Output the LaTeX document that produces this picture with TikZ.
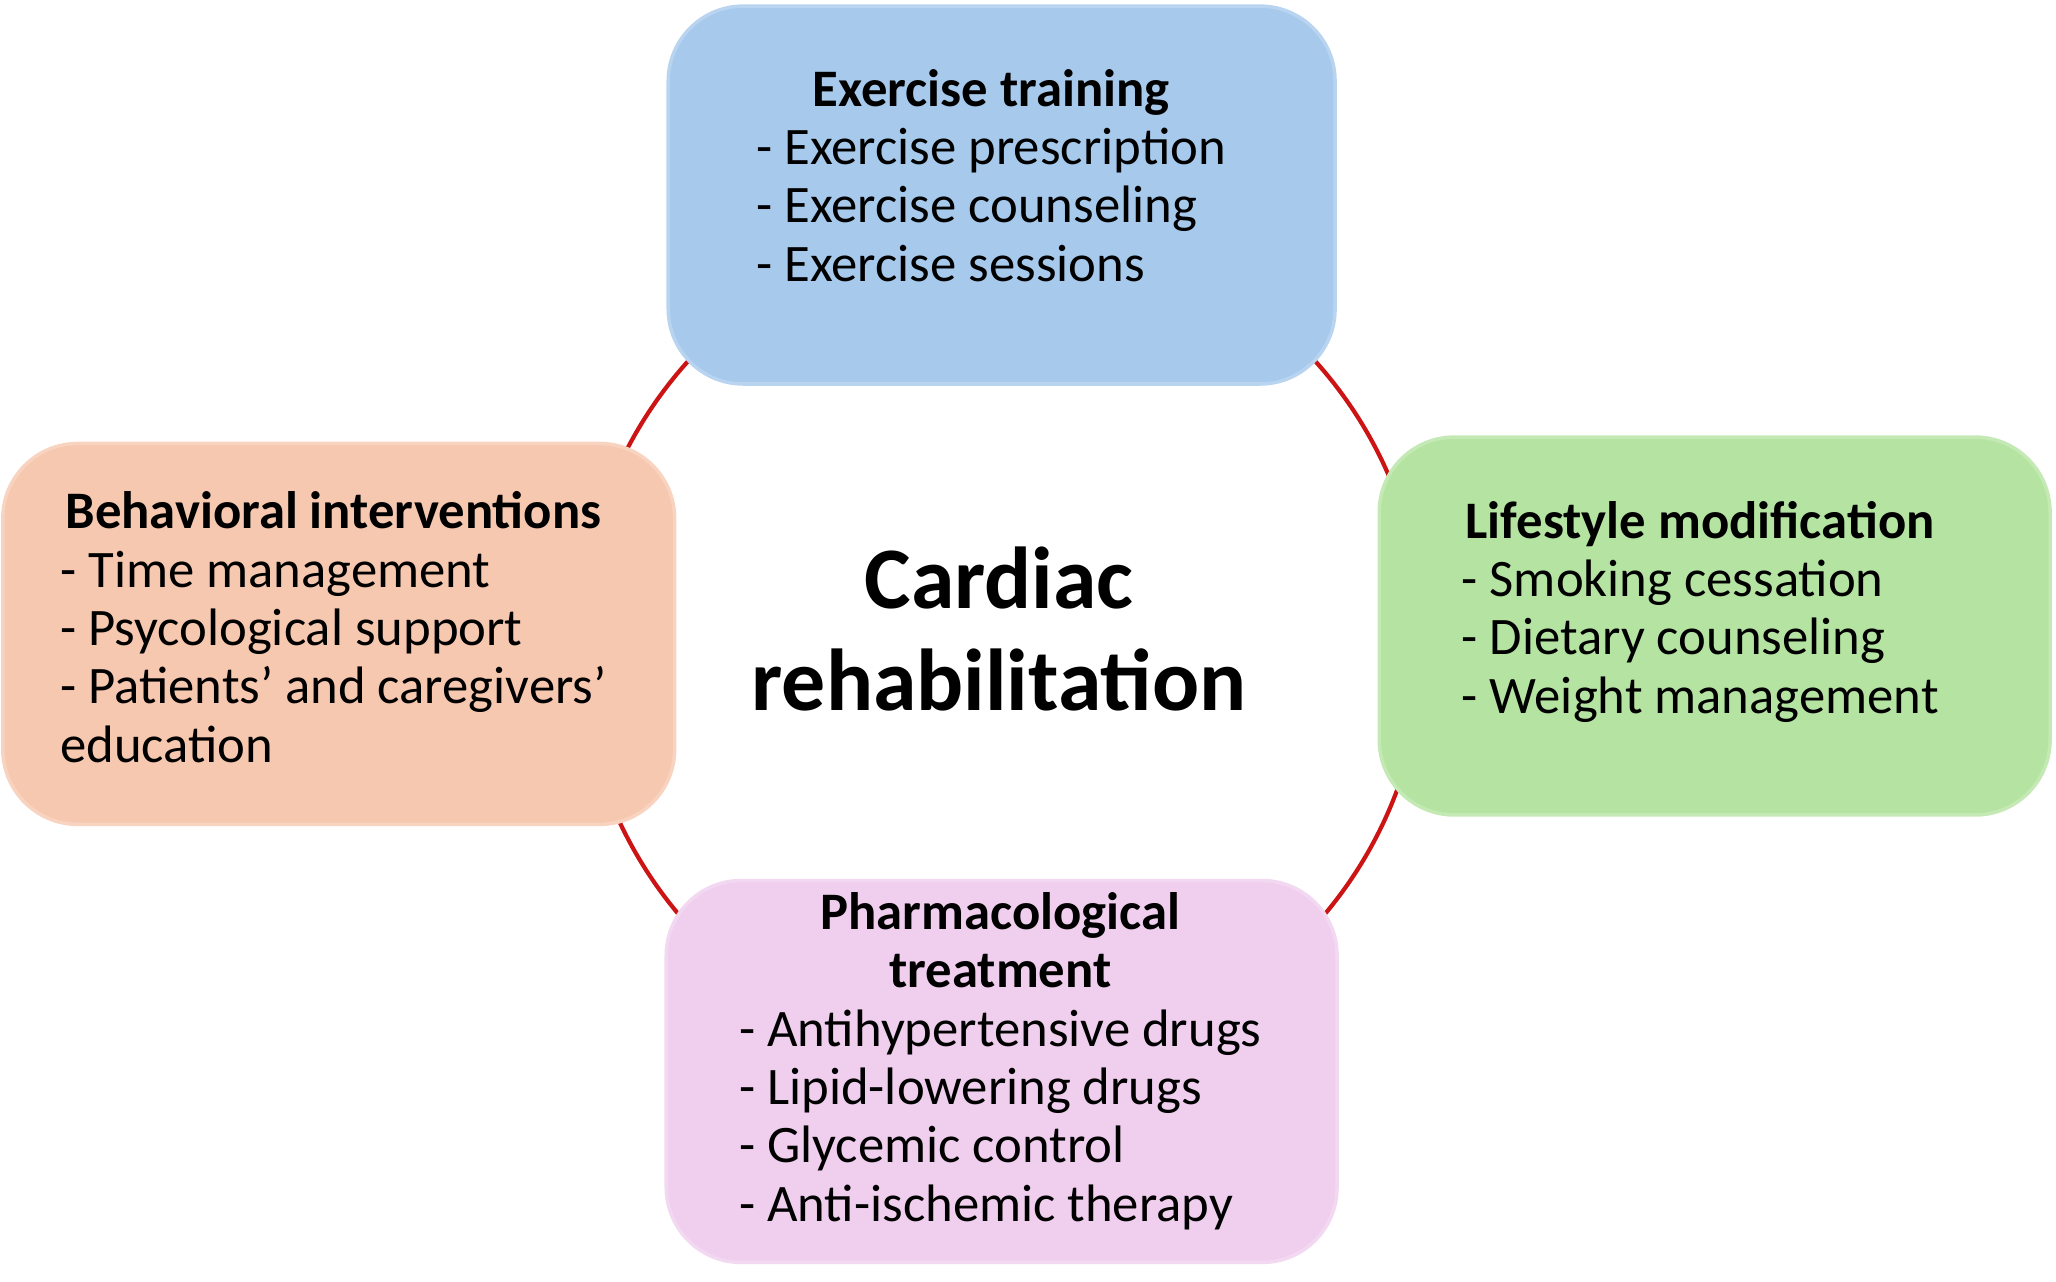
\documentclass[tikz,border=0pt]{standalone}
\usepackage{fontspec}
\setmainfont{Carlito}
\usetikzlibrary{positioning}
\definecolor{exblue}{RGB}{166,201,236}
\definecolor{bhorange}{RGB}{246,200,176}
\definecolor{lsgreen}{RGB}{181,228,162}
\definecolor{phpink}{RGB}{240,206,238}
\definecolor{ringred}{RGB}{204,20,20}
\tikzset
{
  areabox/.style  = {rectangle, rounded corners=0.75cm, line width=1pt, minimum width=6.7cm, minimum height=3.8cm, inner sep=0pt},
  areatext/.style = {font=\fontsize{15}{16.6}\selectfont, inner sep=0pt},
  hubtext/.style  = {font=\fontsize{25}{29}\selectfont\bfseries, align=center}
}
\begin{document}
\begin{tikzpicture}[x=0.01318cm, y=-0.01318cm]
  \useasboundingbox (0,0) rectangle (1560,972);
  % ring behind the boxes
  \draw[ringred, line width=1.2pt] (760,488) circle [radius=320];
  \node [hubtext] (hub) at (758,477) {Cardiac\\rehabilitation};
  % the four areas
  \node [areabox, draw=exblue!80!white, fill=exblue, minimum width=6.67cm, minimum height=3.78cm] (exercise) at (760,148) {};
  \node [areabox, draw=bhorange!80!white, fill=bhorange, minimum width=6.72cm, minimum height=3.81cm] (behavior) at (257,481) {};
  \node [areabox, draw=lsgreen!80!white, fill=lsgreen, minimum width=6.71cm, minimum height=3.78cm] (lifestyle) at (1301,475) {};
  \node [areabox, draw=phpink!80!white, fill=phpink, minimum width=6.71cm, minimum height=3.82cm] (pharma) at (760,813) {};
  \node [areatext] at (752,138) {\begin{tabular}{@{}l@{}}\multicolumn{1}{@{}c@{}}{\textbf{Exercise training}}\\
    - Exercise prescription\\ - Exercise counseling\\ - Exercise sessions\end{tabular}};
  \node [areatext] at (253,481) {\begin{tabular}{@{}l@{}}\multicolumn{1}{@{}c@{}}{\textbf{Behavioral interventions}}\\
    - Time management\\ - Psycological support\\ - Patients’ and caregivers’\\ education\end{tabular}};
  \node [areatext] at (1290,466) {\begin{tabular}{@{}l@{}}\multicolumn{1}{@{}c@{}}{\textbf{Lifestyle modification}}\\
    - Smoking cessation\\ - Dietary counseling\\ - Weight management\end{tabular}};
  \node [areatext] at (759,807) {\begin{tabular}{@{}l@{}}\multicolumn{1}{@{}c@{}}{\textbf{Pharmacological}}\\
    \multicolumn{1}{@{}c@{}}{\textbf{treatment}}\\
    - Antihypertensive drugs\\ - Lipid-lowering drugs\\ - Glycemic control\\ - Anti-ischemic therapy\end{tabular}};
\end{tikzpicture}
\end{document}
